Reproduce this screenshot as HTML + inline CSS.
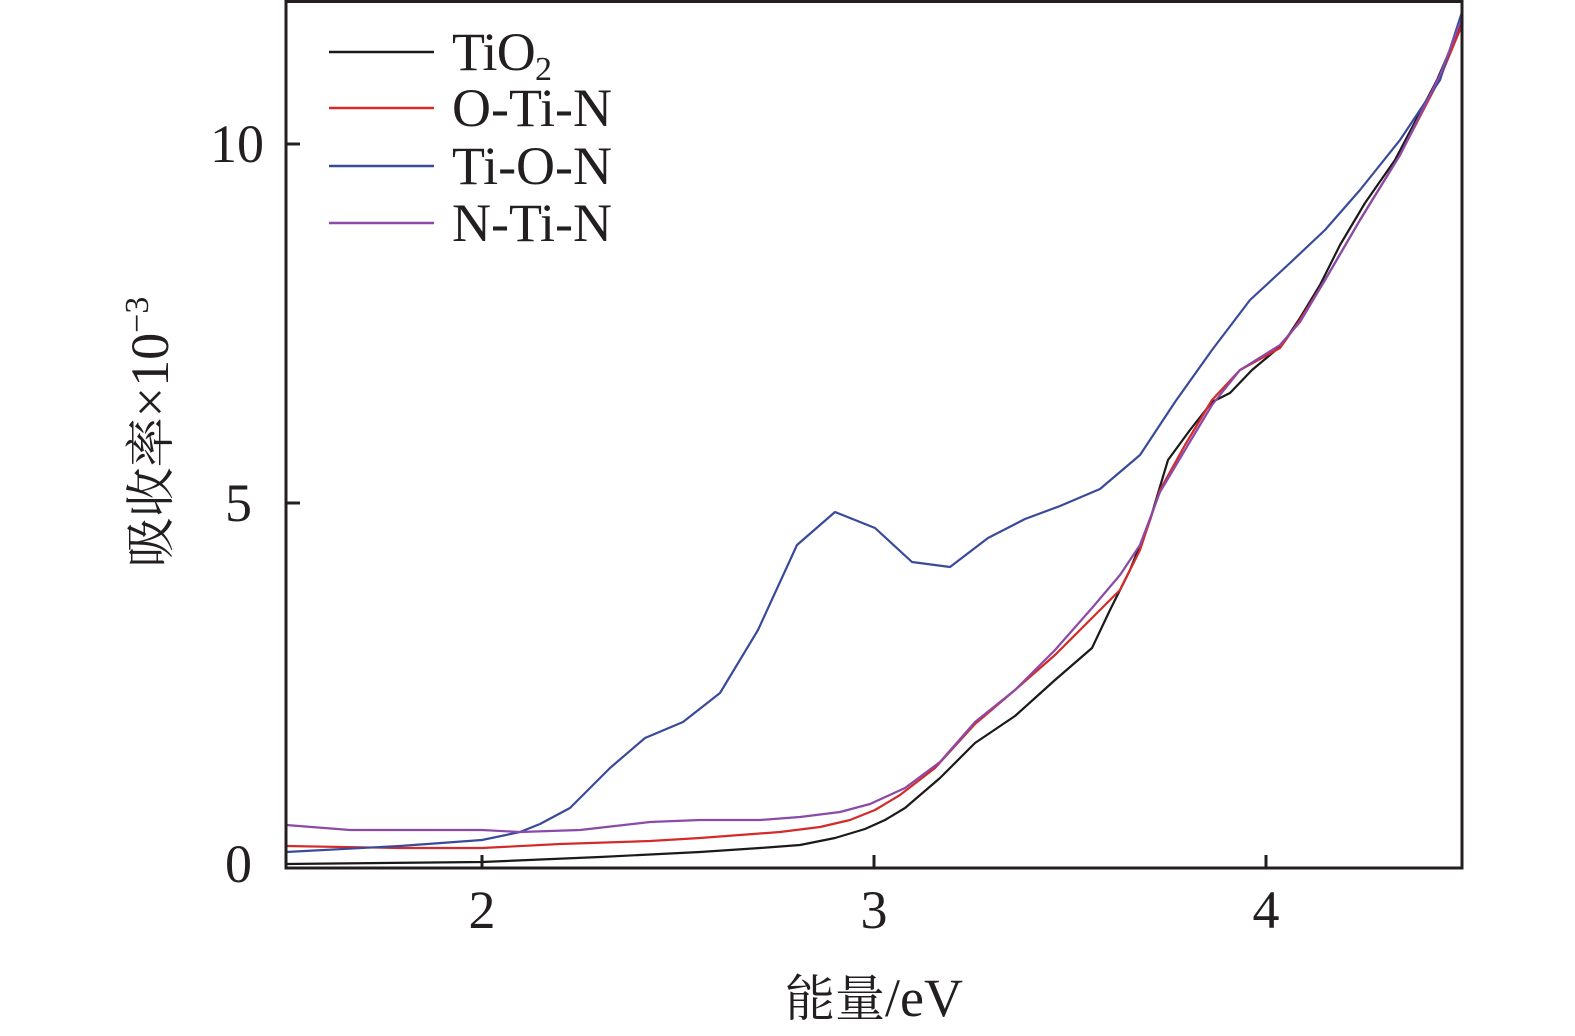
<!DOCTYPE html>
<html><head><meta charset="utf-8"><style>
html,body{margin:0;padding:0;background:#fff;}
svg{display:block;}
text{font-family:"Liberation Serif","Times New Roman",serif;fill:#231f20;}
.cjk{font-family:"Noto Serif CJK SC","Noto Sans CJK SC",serif;}
</style></head><body>
<svg width="1575" height="1036" viewBox="0 0 1575 1036" xmlns="http://www.w3.org/2000/svg">
<g fill="none" stroke-width="2.2" stroke-linejoin="round">
<polyline stroke="#1a1a1a" points="286,864 482,862 600,857 700,852 760,848 800,845 835,838 865,829 885,820 905,808 940,778 975,743 1015,716 1055,680 1092,648 1110,610 1130,570 1150,520 1168,460 1190,430 1212,402 1230,393 1252,370 1282,345 1300,318 1320,285 1340,245 1365,203 1395,160 1437,80 1462,22"/>
<polyline stroke="#d42a2a" points="286,846 400,848 482,848 560,844 650,841 700,838 780,832 820,827 850,820 875,810 900,795 935,768 975,724 1015,690 1055,655 1092,618 1120,590 1140,550 1160,490 1185,445 1212,400 1240,370 1280,348 1300,320 1325,280 1360,220 1400,155 1440,78 1462,25"/>
<polyline stroke="#3a4a9a" points="286,852 400,846 482,840 520,832 540,824 570,808 610,768 645,738 683,722 720,693 758,630 797,545 835,512 875,528 912,562 950,567 988,538 1025,519 1060,506 1100,489 1140,455 1175,402 1212,350 1250,300 1290,263 1325,230 1360,190 1400,140 1440,80 1462,12"/>
<polyline stroke="#8a4aa8" points="286,825 350,830 482,830 520,832 580,830 650,822 700,820 760,820 800,817 840,812 870,804 905,788 940,762 975,722 1015,690 1055,650 1092,608 1120,575 1140,545 1160,492 1185,450 1212,405 1240,370 1280,345 1300,322 1325,280 1360,220 1400,155 1440,75 1462,18"/>
</g>
<rect x="286" y="1.5" width="1176" height="866.5" fill="none" stroke="#231f20" stroke-width="3"/>
<g stroke="#231f20" stroke-width="3">
<line x1="482" y1="868" x2="482" y2="855"/>
<line x1="874" y1="868" x2="874" y2="855"/>
<line x1="1266" y1="868" x2="1266" y2="855"/>
<line x1="286" y1="503" x2="300" y2="503"/>
<line x1="286" y1="144" x2="300" y2="144"/>
</g>
<g stroke-width="2.5">
<line x1="329" y1="52" x2="434" y2="52" stroke="#1a1a1a"/>
<line x1="329" y1="108" x2="434" y2="108" stroke="#d42a2a"/>
<line x1="329" y1="166" x2="434" y2="166" stroke="#3a4a9a"/>
<line x1="329" y1="223" x2="434" y2="223" stroke="#8a4aa8"/>
</g>
<g font-size="54">
<text x="452" y="70" textLength="100">TiO<tspan font-size="34" dy="10">2</tspan></text>
<text x="452" y="126" textLength="160">O-Ti-N</text>
<text x="452" y="184" textLength="160">Ti-O-N</text>
<text x="452" y="241" textLength="160">N-Ti-N</text>
</g>
<g font-size="54" text-anchor="end">
<text x="264" y="162">10</text>
<text x="252" y="521">5</text>
<text x="252" y="882">0</text>
</g>
<g font-size="54" text-anchor="middle">
<text x="482" y="928">2</text>
<text x="874" y="928">3</text>
<text x="1266" y="928">4</text>
<text x="874" y="1016"><tspan class="cjk" font-size="50">能量</tspan>/eV</text>
</g>
<text font-size="54" text-anchor="middle" transform="translate(168,432) rotate(-90)"><tspan class="cjk" font-size="50">吸收率</tspan>×10<tspan font-size="34" dy="-20">−3</tspan></text>
</svg>
</body></html>
